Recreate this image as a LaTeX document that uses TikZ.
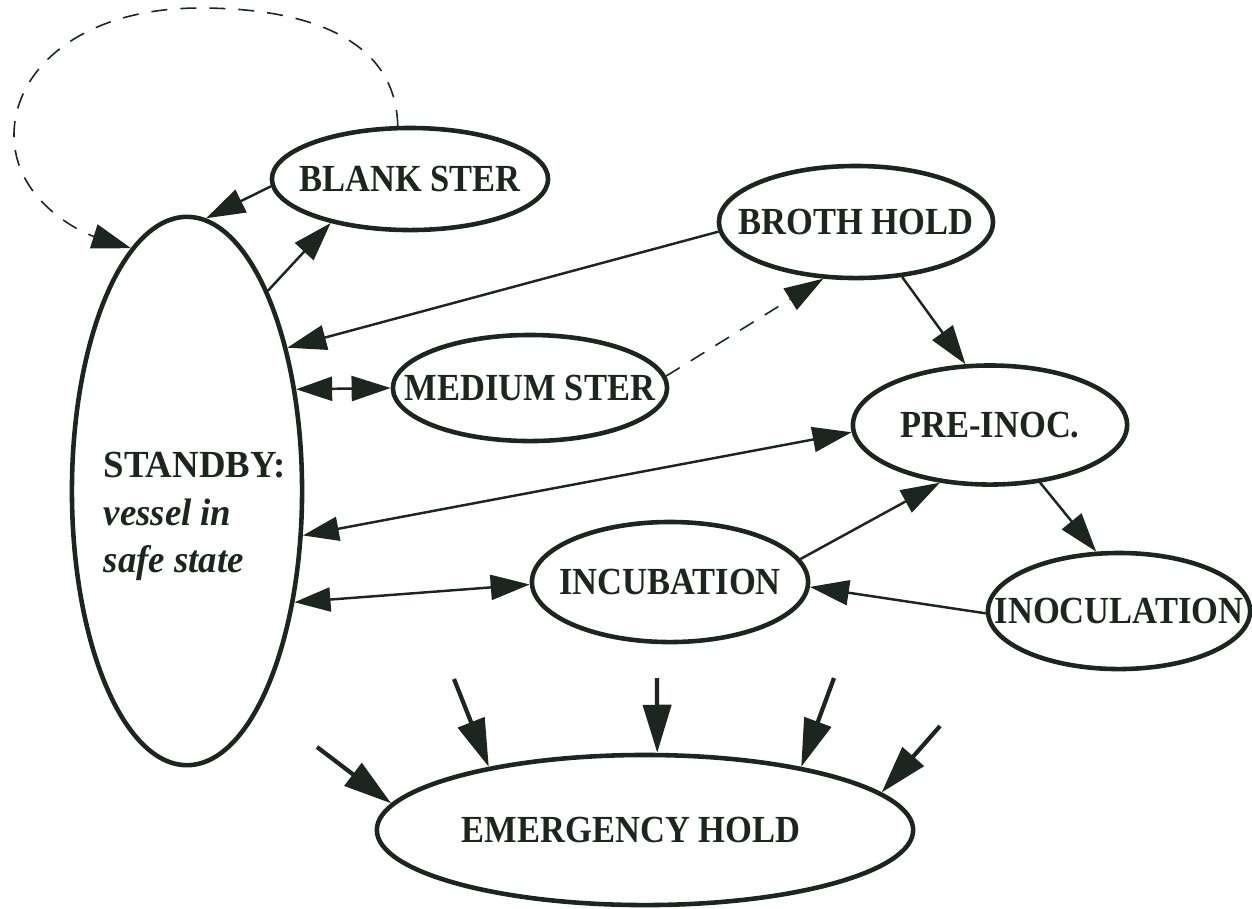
\documentclass[tikz,border=0pt]{standalone}
\usepackage{fontspec}
\setmainfont{Liberation Serif}[FakeStretch=0.9]
\newfontfamily\sbfont{Liberation Serif}[FakeStretch=0.96]
\usetikzlibrary{shapes.geometric,arrows.meta}
\definecolor{ink}{RGB}{28,38,32}
\definecolor{dashink}{RGB}{95,100,97}
\tikzset{
  st/.style={ellipse, draw=ink, line width=1.3pt, inner sep=0pt, text=ink,
    font=\bfseries\fontsize{10.9}{13}\selectfont},
  lbl/.style={inner sep=0pt, text=ink, anchor=base west},
  tr/.style={draw=ink, line width=0.7pt, -{Triangle[length=3.9mm,width=2.5mm]}},
  tr2/.style={draw=ink, line width=0.7pt, {Triangle[length=3.6mm,width=2.4mm]}-{Triangle[length=3.9mm,width=2.5mm]}},
  em/.style={draw=ink, line width=1.2pt, -{Triangle[length=4.8mm,width=2.8mm]}},
  dsh/.style={draw=dashink, line width=0.45pt, dash pattern=on 1.6mm off 1.3mm,
    -{Triangle[length=3.9mm,width=2.5mm]}, ink},
}
\begin{document}
\begin{tikzpicture}[x=0.01cm,y=-0.01cm]
\useasboundingbox (0,0) rectangle (1252,908);
% nodes
\node[st, minimum width=2.30cm, minimum height=5.48cm] (sb) at (187,491) {};
\node[lbl, font=\sbfont\bfseries\fontsize{10.9}{13}\selectfont] (sbt1) at (103,477) {STANDBY:};
\node[lbl, font=\sbfont\bfseries\itshape\fontsize{10.9}{13}\selectfont] (sbt2) at (103,525) {vessel in};
\node[lbl, font=\sbfont\bfseries\itshape\fontsize{10.9}{13}\selectfont] (sbt3) at (103,572) {safe state};
\node[st, minimum width=2.76cm, minimum height=1.02cm] (bs) at (410,179) {\makebox[0pt]{BLANK STER}};
\node[st, minimum width=2.74cm, minimum height=1.12cm] (bh) at (856,222) {\makebox[0pt]{BROTH HOLD}};
\node[st, minimum width=2.74cm, minimum height=1.06cm] (ms) at (530,388) {\makebox[0pt]{MEDIUM STER}};
\node[st, minimum width=2.74cm, minimum height=1.19cm] (pi) at (990,425) {\makebox[0pt]{PRE-INOC.}};
\node[st, minimum width=2.76cm, minimum height=1.20cm] (inc) at (670,582) {\makebox[0pt]{INCUBATION}};
\node[st, minimum width=2.62cm, minimum height=1.16cm] (ino) at (1119,611) {\makebox[0pt]{INOCULATION}};
\node[st, minimum width=5.36cm, minimum height=1.50cm] (eh) at (645,830) {\makebox[0pt]{EMERGENCY HOLD\hspace{0.28cm}}};
% free ends of emergency arrows
\coordinate (e1) at (317,747);
\coordinate (e2) at (454,679);
\coordinate (e3) at (657,678);
\coordinate (e4) at (834,678);
\coordinate (e5) at (940,726);
% connectors
\draw[dsh] (bs.103) .. controls (396,40) and (310,8) .. (200,8)
  .. controls (80,8) and (14,70) .. (14,135)
  .. controls (14,200) and (80,232) .. (sb.103);
\draw[tr] (bs.183) -- (sb.86);
\draw[tr] (sb.68) -- (bs.209);
\draw[tr] (bh.184) -- (sb.55);
\draw[tr2] (sb.43) -- (ms.180);
\draw[dsh] (ms.5) -- (bh.240);
\draw[tr] (bh.-50) -- (pi.112);
\draw[tr2] (sb.-21) -- (pi.183);
\draw[tr2] (sb.-46) -- (inc.181);
\draw[tr] (inc.10) -- (pi.229);
\draw[tr] (pi.-49) -- (ino.111);
\draw[tr] (ino.181) -- (inc.-2);
\draw[em] (e1) -- (eh.174);
\draw[em] (e2) -- (eh.158);
\draw[em] (e3) -- (eh.81);
\draw[em] (e4) -- (eh.22.5);
\draw[em] (e5) -- (eh.9);
\end{tikzpicture}
\end{document}
